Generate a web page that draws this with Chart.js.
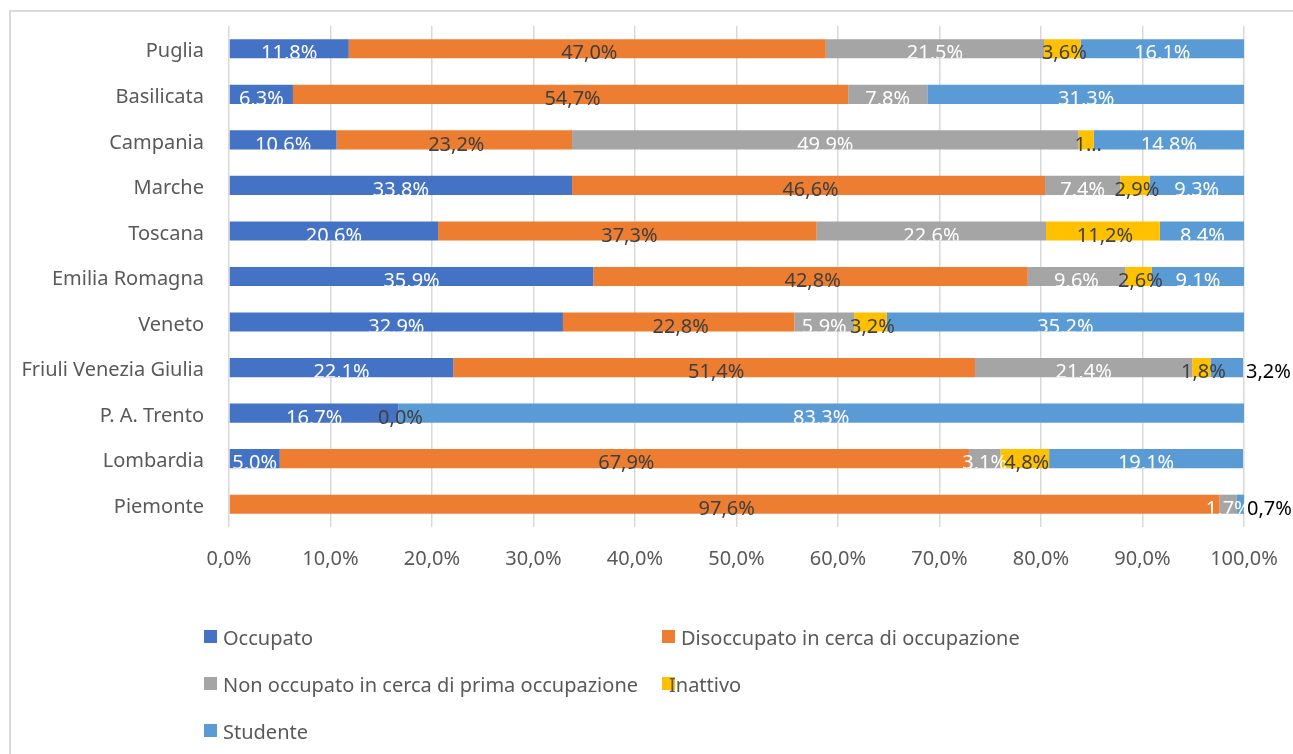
<!DOCTYPE html>
<html>
<head>
<meta charset="utf-8">
<script src="https://cdn.jsdelivr.net/npm/chart.js@4.4.1/dist/chart.umd.min.js"></script>
<style>
  html, body { margin: 0; padding: 0; background: #fff; }
  #wrap { width: 1293px; height: 754px; }
</style>
</head>
<body>
<div id="wrap"><canvas id="myChart" width="1293" height="754"></canvas></div>
<script>
const regioni = ['Puglia', 'Basilicata', 'Campania', 'Marche', 'Toscana', 'Emilia Romagna', 'Veneto', 'Friuli Venezia Giulia', 'P. A. Trento', 'Lombardia', 'Piemonte']
const serie = ['Occupato', 'Disoccupato in cerca di occupazione', 'Non occupato in cerca di prima occupazione', 'Inattivo', 'Studente']
const occupato = [11.8, 6.3, 10.6, 33.8, 20.6, 35.9, 32.9, 22.1, 16.7, 5.0, null]
const disoccupato = [47.0, 54.7, 23.2, 46.6, 37.3, 42.8, 22.8, 51.4, 0.0, 67.9, 97.6]
const nonOccupato = [21.5, 7.8, 49.9, 7.4, 22.6, 9.6, 5.9, 21.4, null, 3.1, 1.7]
const inattivo = [3.6, null, 1.5, 2.9, 11.2, 2.6, 3.2, 1.8, null, 4.8, null]
const studente = [16.1, 31.3, 14.8, 9.3, 8.4, 9.1, 35.2, 3.2, 83.3, 19.1, 0.7]

const colori = ['#4472C4', '#ED7D31', '#A5A5A5', '#FFC000', '#5B9BD5']
const coloriTesto = ['#FFFFFF', '#404040', '#FFFFFF', '#404040', '#FFFFFF']

// etichette fuori dalla barra [serie, regione] e etichette troncate
const fuori = [[4, 7], [4, 10]]
const troncate = [[3, 2]]

const fmt = v => v.toFixed(1).replace('.', ',') + '%'
const FONT = "'Noto Sans', 'Open Sans', sans-serif"

Chart.defaults.font.family = FONT
Chart.defaults.font.size = 20
Chart.defaults.color = '#595959'

const bordo = {
  id: 'bordo',
  beforeDraw(chart) {
    const c = chart.ctx
    c.save()
    c.strokeStyle = '#D9D9D9'
    c.lineWidth = 2
    c.beginPath()
    c.moveTo(10, 760)
    c.lineTo(10, 11)
    c.lineTo(1300, 11)
    c.stroke()
    c.restore()
  }
}

const etichette = {
  id: 'etichette',
  afterDatasetsDraw(chart) {
    const c = chart.ctx
    c.save()
    c.font = '20px ' + FONT
    c.textBaseline = 'middle'
    chart.data.datasets.forEach((ds, di) => {
      const meta = chart.getDatasetMeta(di)
      meta.data.forEach((bar, i) => {
        const v = ds.data[i]
        if (v === null || v === undefined) return
        let testo = fmt(v)
        const x0 = Math.min(bar.base, bar.x)
        const x1 = Math.max(bar.base, bar.x)
        const h = bar.height
        const yc = bar.y + 5
        if (fuori.some(f => f[0] === di && f[1] === i)) {
          c.fillStyle = '#000000'
          c.textAlign = 'left'
          c.fillText(testo, x1 + 3, yc)
          return
        }
        if (troncate.some(f => f[0] === di && f[1] === i)) testo = testo[0] + '…'
        c.fillStyle = coloriTesto[di]
        c.textAlign = 'center'
        if (coloriTesto[di] === '#FFFFFF') {
          c.save()
          c.beginPath()
          c.rect(x0 - 40, bar.y - h / 2, x1 - x0 + 80, h)
          c.clip()
          c.fillText(testo, (x0 + x1) / 2, yc)
          c.restore()
        } else {
          c.fillText(testo, (x0 + x1) / 2 + 2, yc)
        }
      })
    })
    c.restore()
  }
}

const legenda = {
  id: 'legenda',
  afterDraw(chart) {
    const c = chart.ctx
    const boxX = [204, 662, 204, 662, 204]
    const rowY = [637, 637, 684, 684, 731]
    const textX = [223, 681, 223, 669, 223]
    c.save()
    c.font = '20px ' + FONT
    c.textBaseline = 'middle'
    c.textAlign = 'left'
    chart.data.datasets.forEach((ds, i) => {
      c.fillStyle = ds.backgroundColor
      c.fillRect(boxX[i], rowY[i] - 7, 13, 13)
      c.fillStyle = '#595959'
      c.fillText(ds.label, textX[i], rowY[i] + 2)
    })
    c.restore()
  }
}

const valori = [occupato, disoccupato, nonOccupato, inattivo, studente]

new Chart(document.getElementById('myChart'), {
  type: 'bar',
  data: {
    labels: regioni,
    datasets: serie.map((nome, i) => ({
      label: nome,
      data: valori[i],
      backgroundColor: colori[i],
      borderWidth: 0,
      barPercentage: 0.42,
      categoryPercentage: 1
    }))
  },
  options: {
    indexAxis: 'y',
    responsive: false,
    animation: false,
    devicePixelRatio: 1,
    layout: { padding: { top: 26, right: 49, bottom: 177, left: 0 } },
    plugins: {
      legend: { display: false },
      tooltip: { enabled: false }
    },
    scales: {
      x: {
        stacked: true,
        min: 0,
        max: 100,
        ticks: { stepSize: 10, padding: 20, callback: v => fmt(v) },
        grid: { color: '#D9D9D9', lineWidth: 1.5, drawTicks: false },
        border: { display: false },
        afterFit(s) { s.height = 50; s.paddingLeft = 0; s.paddingRight = 0 }
      },
      y: {
        stacked: true,
        ticks: { padding: 25, labelOffset: 3 },
        grid: { display: false, drawTicks: false },
        border: { display: false },
        afterFit(s) { s.width = 229; s.paddingTop = 0; s.paddingBottom = 0 }
      }
    }
  },
  plugins: [bordo, etichette, legenda]
})
</script>
</body>
</html>
